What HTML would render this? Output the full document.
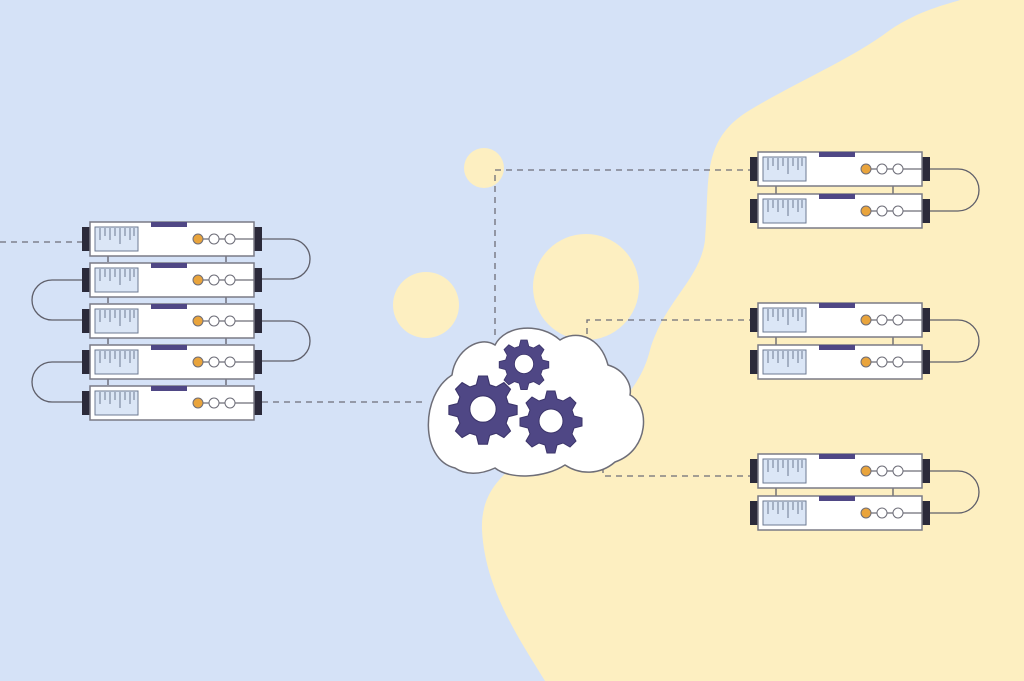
<!DOCTYPE html>
<html><head><style>html,body{margin:0;padding:0;background:#d5e2f7;}svg{display:block}</style></head>
<body>
<svg width="1024" height="681" viewBox="0 0 1024 681" xmlns="http://www.w3.org/2000/svg">
<defs>
<g id="srv">
  <rect x="-8" y="5" width="9" height="24" fill="#2b2a3a"/>
  <rect x="163" y="5" width="9" height="24" fill="#2b2a3a"/>
  <rect x="0" y="0" width="164" height="34" fill="#fff" stroke="#7a7a86" stroke-width="1.5"/>
  <rect x="5" y="5" width="43" height="24" fill="#dbe6f6" stroke="#6d7a92" stroke-width="1"/>
  <path d="M10 6v12M15 6v8M20 6v12M25 6v8M30 6v16M35 6v8M40 6v12M44 6v8" stroke="#6d7a92" stroke-width="1"/>
  <rect x="61" y="0" width="36" height="5" fill="#4f4785"/>
  <line x1="113" y1="17" x2="164" y2="17" stroke="#6d6d78" stroke-width="1.2"/>
  <circle cx="108" cy="17" r="5" fill="#e9a43c" stroke="#6d6d78"/>
  <circle cx="124" cy="17" r="5" fill="#fff" stroke="#6d6d78"/>
  <circle cx="140" cy="17" r="5" fill="#fff" stroke="#6d6d78"/>
</g>
<g id="gear">
  <path d="M-4 -30h8l2 8 6 2 7-4 6 6-4 7 2 6 8 2v8l-8 2-2 6 4 7-6 6-7-4-6 2-2 8h-8l-2-8-6-2-7 4-6-6 4-7-2-6-8-2v-8l8-2 2-6-4-7 6-6 7 4 6-2z" fill="#4f4785" stroke="#3b346a" stroke-width="1"/>
  <circle r="12" fill="#fff" stroke="#3b346a"/>
</g>
</defs>
<path d="M960 0 L1024 0 L1024 681 L545 681 C520 640 485 590 482 530 C480 480 520 460 560 440 C610 420 640 390 650 350 C665 300 700 280 705 240 C710 180 700 140 750 110 C800 80 850 60 890 30 C920 10 945 5 960 0Z" fill="#fdefc1"/>
<circle cx="484" cy="168" r="20" fill="#fdefc1"/>
<circle cx="426" cy="305" r="33" fill="#fdefc1"/>
<circle cx="586" cy="287" r="53" fill="#fdefc1"/>
<g stroke="#6e6e78" stroke-width="1.3" stroke-dasharray="6,5" fill="none">
  <path d="M0 242H84"/>
  <path d="M262 402H425"/>
  <path d="M495 335V170H750"/>
  <path d="M587 345V320H750"/>
  <path d="M603 445V476H750"/>
</g>
<g stroke="#5f5f6a" stroke-width="1.3" fill="none">
  <path d="M262 239H290A20 20 0 0 1 290 279H262"/>
  <path d="M262 321H290A20 20 0 0 1 290 361H262"/>
  <path d="M82 280H52A20 20 0 0 0 52 320H82"/>
  <path d="M82 362H52A20 20 0 0 0 52 402H82"/>
  <path d="M930 169H958A21 21 0 0 1 958 211H930"/>
  <path d="M930 320H958A21 21 0 0 1 958 362H930"/>
  <path d="M930 471H958A21 21 0 0 1 958 513H930"/>
  <path d="M108 256v6M226 256v6M108 297v6M226 297v6M108 338v6M226 338v6M108 379v6M226 379v6M776 186v8M893 186v8M776 337v8M893 337v8M776 488v8M893 488v8"/>
</g>
<use href="#srv" x="90" y="222"/>
<use href="#srv" x="90" y="263"/>
<use href="#srv" x="90" y="304"/>
<use href="#srv" x="90" y="345"/>
<use href="#srv" x="90" y="386"/>
<use href="#srv" x="758" y="152"/>
<use href="#srv" x="758" y="194"/>
<use href="#srv" x="758" y="303"/>
<use href="#srv" x="758" y="345"/>
<use href="#srv" x="758" y="454"/>
<use href="#srv" x="758" y="496"/>
<path d="M455 468 C420 460 420 395 452 375 C455 350 480 335 495 345 C505 325 540 322 560 340 C575 330 600 335 608 365 C625 370 632 385 630 395 C650 405 650 450 615 462 C600 475 580 475 565 465 C545 478 510 480 495 468 C480 475 465 475 455 468Z" fill="#fff" stroke="#6e6e78" stroke-width="1.5"/>
<use href="#gear" transform="translate(483,409) scale(1.1)"/>
<use href="#gear" transform="translate(524,364) scale(0.8)"/>
<use href="#gear" transform="translate(551,421) scale(1.0)"/>
</svg>
</body></html>
